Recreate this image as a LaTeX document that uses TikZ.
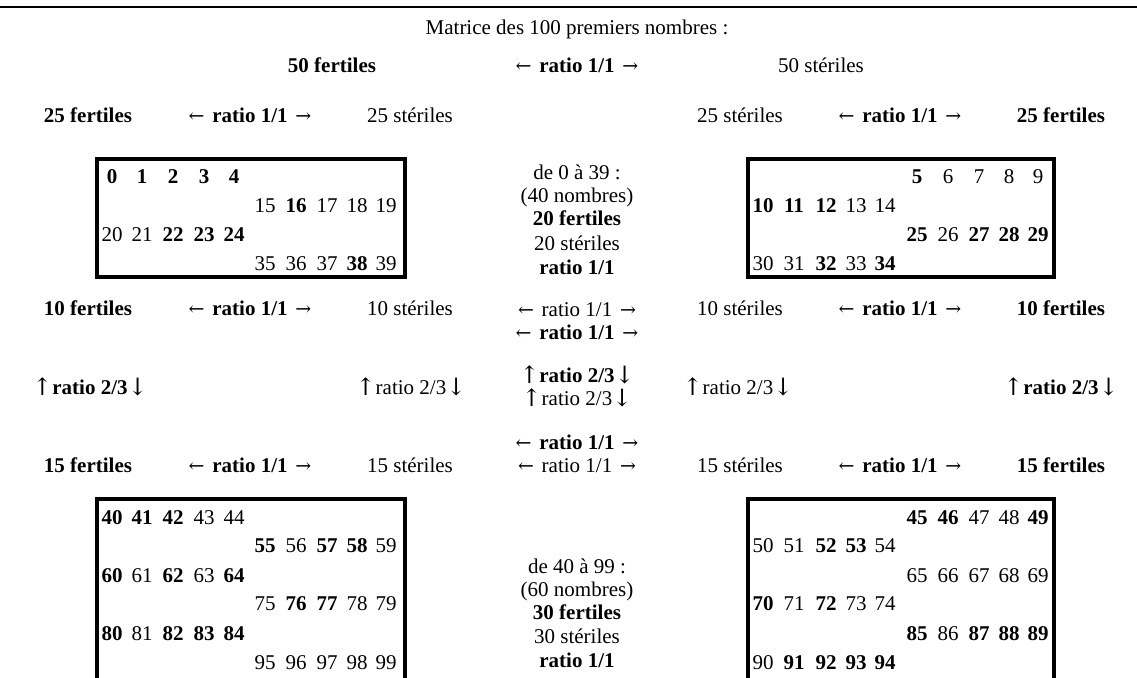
\documentclass[tikz,border=0pt]{standalone}
\usepackage{fontspec}
\setmainfont{Liberation Serif}
\newfontfamily\arrowfont{DejaVu Serif}
\newcommand\lar{\makebox[1em]{\arrowfont\mdseries\fontsize{19}{24}\selectfont ←}}
\newcommand\rar{\makebox[1em]{\arrowfont\mdseries\fontsize{19}{24}\selectfont →}}
\newcommand\uar{\makebox[0.45em]{\raisebox{-1.5pt}{\arrowfont\mdseries\fontsize{24}{24}\selectfont ↑}}}
\newcommand\dar{\makebox[0.45em]{\raisebox{-1.5pt}{\arrowfont\mdseries\fontsize{24}{24}\selectfont ↓}}}
\begin{document}
\begin{tikzpicture}[x=1pt,y=-1pt,
  every node/.style={inner sep=0pt,anchor=base,font=\fontsize{21}{24}\selectfont},
  bx/.style={line width=4pt},
  rule/.style={line width=1.5pt}]
\useasboundingbox (0,0) rectangle (1137,677);
% top rule
\draw[rule] (0,7) -- (1137,7);
% title
\node (title) at (577,35) {Matrice des 100 premiers nombres :};
\node (f50) at (332,73) {\textbf{50 fertiles}};
\node (r50) at (577,73) {\lar{} \textbf{ratio 1/1} \rar};
\node (s50) at (821,73) {50 stériles};
% row 25
\node (f25l) at (88,122) {\textbf{25 fertiles}};
\node (r25l) at (250,122) {\lar{} \textbf{ratio 1/1} \rar};
\node (s25l) at (410,122) {25 stériles};
\node (s25r) at (740,122) {25 stériles};
\node (r25r) at (900,122) {\lar{} \textbf{ratio 1/1} \rar};
\node (f25r) at (1061,122) {\textbf{25 fertiles}};
% boxes
\draw[bx] (97,159) rectangle (405,277);
\draw[bx] (748,159) rectangle (1054,277);
\draw[bx] (97,690) |- (405,499) -- (405,690);
\draw[bx] (748,690) |- (1054,499) -- (1054,690);
% top-left box
\foreach \x/\n [count=\i] in {112/\textbf{0},142/\textbf{1},173/\textbf{2},204/\textbf{3},234/\textbf{4}}
  \node (a1-\i) at (\x,183) {\n};
\foreach \x/\n [count=\i] in {265/15,296/\textbf{16},327/17,357/18,386/19}
  \node (a2-\i) at (\x,212) {\n};
\foreach \x/\n [count=\i] in {112/20,142/21,173/\textbf{22},204/\textbf{23},234/\textbf{24}}
  \node (a3-\i) at (\x,241) {\n};
\foreach \x/\n [count=\i] in {265/35,296/36,327/37,357/\textbf{38},386/39}
  \node (a4-\i) at (\x,270) {\n};
% top-right box
\foreach \x/\n [count=\i] in {917/\textbf{5},948/6,979/7,1009/8,1038/9}
  \node (b1-\i) at (\x,183) {\n};
\foreach \x/\n [count=\i] in {763/\textbf{10},794/\textbf{11},826/\textbf{12},856/13,885/14}
  \node (b2-\i) at (\x,212) {\n};
\foreach \x/\n [count=\i] in {917/\textbf{25},948/26,979/\textbf{27},1009/\textbf{28},1038/\textbf{29}}
  \node (b3-\i) at (\x,241) {\n};
\foreach \x/\n [count=\i] in {763/30,794/31,826/\textbf{32},856/33,885/\textbf{34}}
  \node (b4-\i) at (\x,270) {\n};
% middle top
\node (m1) at (577,179) {de 0 à 39 :};
\node (m2) at (577,202) {(40 nombres)};
\node (m3) at (577,225) {\textbf{20 fertiles}};
\node (m4) at (577,250) {20 stériles};
\node (m5) at (577,274) {\textbf{ratio 1/1}};
% row 10
\node (f10l) at (88,315) {\textbf{10 fertiles}};
\node (r10l) at (250,315) {\lar{} \textbf{ratio 1/1} \rar};
\node (s10l) at (410,315) {10 stériles};
\node (m6) at (577,316) {\lar{} ratio 1/1 \rar};
\node (m7) at (577,339) {\lar{} \textbf{ratio 1/1} \rar};
\node (s10r) at (740,315) {10 stériles};
\node (r10r) at (900,315) {\lar{} \textbf{ratio 1/1} \rar};
\node (f10r) at (1061,315) {\textbf{10 fertiles}};
% ratio 2/3 row
\node (v1) at (90,394) {\uar{} \textbf{ratio 2/3} \dar};
\node (v2) at (411,394) {\uar{} ratio 2/3 \dar};
\node (m8) at (577,382) {\uar{} \textbf{ratio 2/3} \dar};
\node (m9) at (577,405) {\uar{} ratio 2/3 \dar};
\node (v3) at (738,394) {\uar{} ratio 2/3 \dar};
\node (v4) at (1061,394) {\uar{} \textbf{ratio 2/3} \dar};
% row 15
\node (m10) at (577,449) {\lar{} \textbf{ratio 1/1} \rar};
\node (m11) at (577,472) {\lar{} ratio 1/1 \rar};
\node (f15l) at (88,472) {\textbf{15 fertiles}};
\node (r15l) at (250,472) {\lar{} \textbf{ratio 1/1} \rar};
\node (s15l) at (410,472) {15 stériles};
\node (s15r) at (740,472) {15 stériles};
\node (r15r) at (900,472) {\lar{} \textbf{ratio 1/1} \rar};
\node (f15r) at (1061,472) {\textbf{15 fertiles}};
% bottom-left box
\foreach \x/\n [count=\i] in {112/\textbf{40},142/\textbf{41},173/\textbf{42},204/43,234/44}
  \node (c1-\i) at (\x,524) {\n};
\foreach \x/\n [count=\i] in {265/\textbf{55},296/56,327/\textbf{57},357/\textbf{58},386/59}
  \node (c2-\i) at (\x,552) {\n};
\foreach \x/\n [count=\i] in {112/\textbf{60},142/61,173/\textbf{62},204/63,234/\textbf{64}}
  \node (c3-\i) at (\x,582) {\n};
\foreach \x/\n [count=\i] in {265/75,296/\textbf{76},327/\textbf{77},357/78,386/79}
  \node (c4-\i) at (\x,610) {\n};
\foreach \x/\n [count=\i] in {112/\textbf{80},142/81,173/\textbf{82},204/\textbf{83},234/\textbf{84}}
  \node (c5-\i) at (\x,640) {\n};
\foreach \x/\n [count=\i] in {265/95,296/96,327/97,357/98,386/99}
  \node (c6-\i) at (\x,669) {\n};
% bottom-right box
\foreach \x/\n [count=\i] in {917/\textbf{45},948/\textbf{46},979/47,1009/48,1038/\textbf{49}}
  \node (d1-\i) at (\x,524) {\n};
\foreach \x/\n [count=\i] in {763/50,794/51,826/\textbf{52},856/\textbf{53},885/54}
  \node (d2-\i) at (\x,552) {\n};
\foreach \x/\n [count=\i] in {917/65,948/66,979/67,1009/68,1038/69}
  \node (d3-\i) at (\x,582) {\n};
\foreach \x/\n [count=\i] in {763/\textbf{70},794/71,826/\textbf{72},856/73,885/74}
  \node (d4-\i) at (\x,610) {\n};
\foreach \x/\n [count=\i] in {917/\textbf{85},948/86,979/\textbf{87},1009/\textbf{88},1038/\textbf{89}}
  \node (d5-\i) at (\x,640) {\n};
\foreach \x/\n [count=\i] in {763/90,794/\textbf{91},826/\textbf{92},856/\textbf{93},885/\textbf{94}}
  \node (d6-\i) at (\x,669) {\n};
% middle bottom
\node (n1) at (577,573) {de 40 à 99 :};
\node (n2) at (577,596) {(60 nombres)};
\node (n3) at (577,619) {\textbf{30 fertiles}};
\node (n4) at (577,643) {30 stériles};
\node (n5) at (577,667) {\textbf{ratio 1/1}};
\end{tikzpicture}
\end{document}
